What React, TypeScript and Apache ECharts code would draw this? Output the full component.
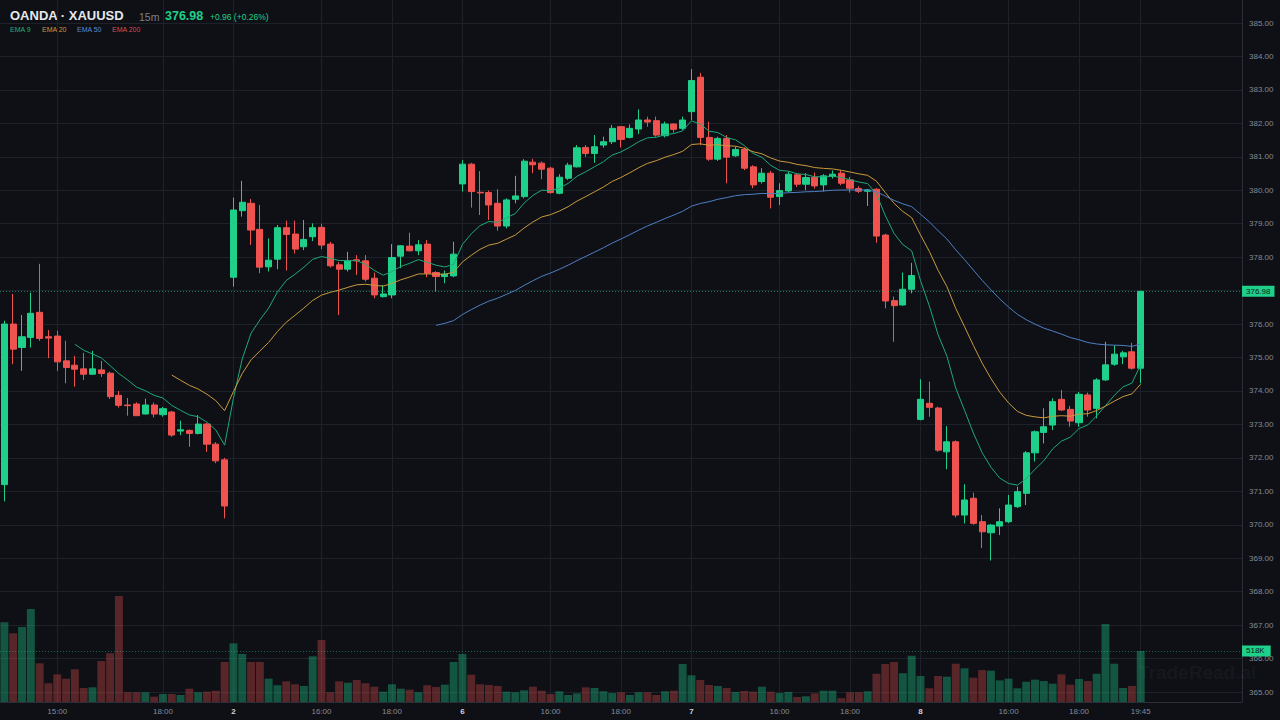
import React, { useEffect, useRef } from "react";
import * as echarts from "echarts";

// [open, close, low, high] per 15m candle
const candles: number[][] = [
  [371.2, 376.0, 370.7, 376.1], [376.0, 375.25, 374.8, 376.9], [375.3, 375.62, 374.6, 376.27], [375.6, 376.32, 375.3, 376.94],
  [376.35, 375.57, 375.5, 377.8], [375.62, 375.58, 374.98, 375.82], [375.64, 374.87, 374.6, 375.8], [374.9, 374.7, 374.23, 375.5],
  [374.77, 374.65, 374.13, 375.05], [374.66, 374.5, 374.33, 375.14], [374.5, 374.66, 374.48, 375.2], [374.63, 374.52, 374.42, 374.9],
  [374.53, 373.83, 373.76, 374.58], [373.87, 373.57, 373.5, 374.0], [373.58, 373.56, 373.26, 373.79], [373.61, 373.26, 373.25, 373.66],
  [373.31, 373.58, 373.3, 373.77], [373.58, 373.31, 373.21, 373.65], [373.29, 373.47, 373.23, 373.52], [373.37, 372.68, 372.63, 373.4],
  [372.8, 372.84, 372.68, 373.11], [372.82, 372.73, 372.33, 372.85], [372.73, 373.01, 372.7, 373.28], [373.01, 372.41, 372.18, 373.04],
  [372.41, 371.91, 371.84, 372.47], [371.94, 370.56, 370.19, 372.0],
  [377.4, 379.41, 377.12, 379.78], [379.39, 379.64, 379.21, 380.28], [379.61, 378.81, 378.36, 379.74], [378.83, 377.7, 377.52, 379.56],
  [377.71, 377.91, 377.57, 378.56], [377.94, 378.88, 377.64, 378.96], [378.88, 378.68, 377.6, 379.09], [378.69, 378.24, 378.11, 379.09],
  [378.31, 378.53, 378.21, 379.11], [378.61, 378.88, 378.48, 379.01], [378.89, 378.36, 378.24, 379.0], [378.39, 377.74, 377.69, 378.46],
  [377.77, 377.64, 376.27, 377.85], [377.64, 377.89, 377.57, 378.16], [377.92, 377.89, 377.47, 378.06], [377.89, 377.34, 377.27, 378.06],
  [377.37, 376.87, 376.77, 377.54], [376.82, 376.9, 376.79, 377.17], [376.87, 377.99, 376.77, 378.39], [378.03, 378.34, 377.67, 378.36],
  [378.33, 378.19, 378.17, 378.73], [378.19, 378.37, 378.06, 378.51], [378.39, 377.52, 377.4, 378.51], [377.54, 377.42, 376.97, 377.58],
  [377.42, 377.49, 377.22, 377.6], [377.44, 378.09, 377.4, 378.46],
  [380.19, 380.78, 379.96, 380.9], [380.78, 379.96, 379.48, 380.82], [379.94, 379.92, 379.26, 380.57], [379.93, 379.56, 379.11, 379.99],
  [379.61, 378.93, 378.79, 380.03], [378.93, 379.71, 378.86, 379.76], [379.73, 379.83, 379.61, 380.43], [379.81, 380.87, 379.76, 380.93],
  [380.84, 380.76, 380.51, 380.94], [380.81, 380.63, 380.33, 380.86], [380.66, 379.93, 379.9, 380.7], [379.91, 380.39, 379.88, 380.48],
  [380.36, 380.75, 380.31, 380.82], [380.7, 381.27, 380.68, 381.35], [381.28, 381.1, 381.0, 381.35], [381.1, 381.3, 380.82, 381.65],
  [381.35, 381.45, 381.27, 381.6], [381.45, 381.85, 381.38, 381.95], [381.9, 381.52, 381.28, 381.92], [381.58, 381.85, 381.55, 381.97],
  [381.83, 382.1, 381.68, 382.42], [382.1, 382.04, 381.9, 382.2], [382.08, 381.65, 381.6, 382.2], [381.63, 381.98, 381.58, 382.05],
  [381.98, 381.82, 381.72, 382.0], [381.85, 382.1, 381.8, 382.2],
  [382.35, 383.28, 382.1, 383.62], [383.38, 381.58, 381.35, 383.51], [381.58, 380.93, 380.88, 382.05], [380.93, 381.55, 380.88, 381.6],
  [381.55, 380.99, 380.21, 381.65], [381.03, 381.22, 381.0, 381.3], [381.22, 380.66, 380.6, 381.28], [380.7, 380.16, 380.06, 380.75],
  [380.26, 380.51, 380.2, 380.66], [380.51, 379.79, 379.46, 380.58], [379.81, 379.99, 379.56, 380.21], [379.98, 380.48, 379.95, 380.56],
  [380.46, 380.18, 380.1, 380.5], [380.18, 380.38, 380.0, 380.51], [380.39, 380.13, 380.05, 380.53], [380.16, 380.43, 379.96, 380.48],
  [380.41, 380.48, 380.35, 380.59], [380.51, 380.21, 380.15, 380.6], [380.31, 380.06, 379.93, 380.4], [380.05, 379.97, 379.92, 380.12],
  [379.97, 380.01, 379.53, 380.04], [380.03, 378.63, 378.43, 380.06], [378.66, 376.69, 376.47, 378.7], [376.7, 376.55, 375.47, 376.82],
  [376.57, 377.04, 376.55, 377.54], [377.04, 377.45, 376.92, 377.83],
  [373.15, 373.75, 373.12, 374.35], [373.63, 373.51, 373.23, 374.28], [373.49, 372.23, 372.18, 373.53], [372.18, 372.48, 371.66, 372.95],
  [372.48, 370.29, 370.22, 372.52], [370.29, 370.74, 370.04, 371.21], [370.79, 370.04, 370.0, 370.96], [370.09, 369.79, 369.3, 370.29],
  [369.76, 369.99, 368.93, 370.02], [369.96, 370.09, 369.69, 370.49], [370.09, 370.59, 370.05, 370.89], [370.54, 370.99, 370.5, 371.14],
  [370.94, 372.15, 370.59, 372.2], [372.15, 372.78, 371.89, 372.82], [372.76, 372.93, 372.43, 373.48], [372.98, 373.68, 372.83, 373.78],
  [373.75, 373.43, 373.4, 374.03], [373.45, 373.1, 372.93, 373.55], [373.05, 373.9, 372.93, 373.97], [373.88, 373.43, 373.23, 373.95],
  [373.48, 374.33, 373.18, 374.38], [374.33, 374.78, 374.3, 375.47], [374.8, 375.1, 374.75, 375.37], [375.02, 375.14, 374.8, 375.2],
  [375.17, 374.68, 374.64, 375.44], [374.68, 376.98, 374.23, 376.98],
];

// volume in thousands
const volumes: number[] = [
  810, 698, 762, 945, 393, 190, 281, 237, 332, 142, 149, 416, 495, 1077, 99, 99, 99, 54, 81, 81, 71, 135, 99, 105, 115, 406,
  596, 488, 406, 406, 237, 170, 210, 180, 163, 464, 630, 99, 210, 196, 223, 190, 155, 105, 180, 135, 125, 99, 170, 152, 176, 406,
  488, 277, 180, 173, 163, 105, 99, 119, 155, 115, 81, 109, 71, 88, 149, 142, 109, 91, 99, 71, 99, 99, 71, 109, 115, 386,
  271, 223, 173, 163, 142, 102, 112, 105, 155, 105, 91, 102, 51, 58, 88, 115, 115, 38, 99, 99, 109, 287, 386, 406, 292, 470,
  264, 139, 264, 257, 389, 342, 247, 325, 318, 220, 237, 139, 206, 227, 213, 186, 281, 176, 234, 213, 287, 792, 389, 142, 163, 518,
];

// x tick labels: [candle index, label, isDay]
const xTicks: [number, string, boolean][] = [
  [6, "15:00", false], [18, "18:00", false], [26, "2", true], [36, "16:00", false], [44, "18:00", false],
  [52, "6", true], [62, "16:00", false], [70, "18:00", false], [78, "7", true], [88, "16:00", false],
  [96, "18:00", false], [104, "8", true], [114, "16:00", false], [122, "18:00", false], [129, "19:45", false],
];

const emaPeriods = [9, 20, 50];
const emaColors = ["#1fa878", "#c99a3c", "#4f7fc2"];
const legendItems: [string, string][] = [["EMA 9", "#22b07f"], ["EMA 20", "#c99a3c"], ["EMA 50", "#5a8ad0"], ["EMA 200", "#d64f4c"]];

const lastPrice = 376.98;
const lastVolume = 518;
const SLOTS = 141;

const BG = "#0e1016";
const GRID = "#1d212a";
const AXIS = "#2a2e38";
const TXT = "#868a94";
const UP = "#1fd08a";
const DOWN = "#f0534f";

function ema(vals: number[], n: number): (number | null)[] {
  const k = 2 / (n + 1);
  const out: (number | null)[] = [];
  let prev = 0;
  for (let i = 0; i < vals.length; i++) {
    if (i < n - 1) out.push(null);
    else if (i === n - 1) {
      let s = 0;
      for (let j = 0; j < n; j++) s += vals[j];
      prev = s / n;
      out.push(prev);
    } else {
      prev = vals[i] * k + prev * (1 - k);
      out.push(prev);
    }
  }
  return out;
}

export default function App() {
  const ref = useRef<HTMLDivElement>(null);
  useEffect(() => {
    document.body.style.margin = "0";
    document.body.style.background = BG;
    const chart = echarts.init(ref.current!, undefined, { renderer: "svg" });
    const cats = Array.from({ length: SLOTS }, (_, i) => String(i));
    const tickMap = new Map<number, [string, boolean]>();
    xTicks.forEach(([i, l, d]) => tickMap.set(i, [l, d]));
    const closes = candles.map((c) => c[1]);
    const volData = volumes.map((v, i) => ({
      value: v,
      itemStyle: { color: candles[i][1] >= candles[i][0] ? "rgba(31,208,138,0.36)" : "rgba(240,83,79,0.33)" },
    }));
    const font = "'Liberation Sans', Arial, sans-serif";

    const graphics: any[] = [
      { type: "text", left: 10, top: 9, style: { text: "OANDA · XAUUSD", fill: "#e6e8ec", font: `bold 13px ${font}` } },
      { type: "text", left: 139, top: 11, style: { text: "15m", fill: "#7c808a", font: `10.5px ${font}` } },
      { type: "text", left: 165, top: 9.5, style: { text: lastPrice.toFixed(2), fill: UP, font: `bold 12.5px ${font}` } },
      { type: "text", left: 210, top: 12, style: { text: "+0.96 (+0.26%)", fill: UP, font: `8.5px ${font}` } },
      { type: "text", left: 1138, top: 663, z: 20, silent: true, style: { text: "TradeRead.ai", fill: "rgba(255,255,255,0.05)", font: `bold 19px ${font}` } },
    ];
    let lx = 10;
    const lw = [32, 35, 35, 40];
    legendItems.forEach(([t, c], i) => {
      graphics.push({ type: "text", left: lx, top: 26, style: { text: t, fill: c, font: `7px ${font}` } });
      lx += lw[i];
    });

    const option: any = {
      animation: false,
      backgroundColor: BG,
      textStyle: { fontFamily: font },
      grid: [
        { left: -1, right: 38, top: 23, height: 669 },
        { left: -1, right: 38, top: 0, height: 702 },
      ],
      xAxis: [
        { type: "category", gridIndex: 0, data: cats, boundaryGap: true, show: false },
        {
          type: "category", gridIndex: 1, data: cats, boundaryGap: true,
          axisLine: { show: true, lineStyle: { color: AXIS } },
          axisTick: { show: false },
          splitLine: { show: false },
          axisLabel: {
            interval: (i: number) => tickMap.has(i),
            formatter: (v: string) => {
              const t = tickMap.get(Number(v));
              if (!t) return "";
              return t[1] ? `{d|${t[0]}}` : t[0];
            },
            color: TXT, fontSize: 8, margin: 5,
            rich: { d: { color: "#cfd2d8", fontWeight: "bold", fontSize: 8 } },
          },
        },
      ],
      yAxis: [
        {
          type: "value", gridIndex: 0, position: "right", min: 365, max: 385, interval: 1,
          axisLine: { show: false }, axisTick: { show: false },
          axisLabel: {
            // the last-price badge covers the label nearest to it
            formatter: (v: number) => (Math.abs(v - lastPrice) < 0.3 ? "" : v.toFixed(2)),
            color: TXT, fontSize: 8, margin: 7,
          },
          splitLine: { lineStyle: { color: GRID, width: 1 } },
        },
        {
          type: "value", gridIndex: 1, position: "right", min: 0, max: 7130,
          axisLine: { show: true, lineStyle: { color: AXIS } },
          axisTick: { show: false }, axisLabel: { show: false }, splitLine: { show: false },
        },
      ],
      series: [
        {
          type: "bar", name: "Volume", xAxisIndex: 1, yAxisIndex: 1, data: volData, barWidth: "90%", z: 1,
          markLine: {
            silent: true, symbol: ["none", "none"], animation: false, z: 0,
            label: { show: false },
            lineStyle: { color: GRID, type: "solid", width: 1 },
            data: xTicks.map(([i]) => ({ xAxis: i })),
          },
        },
        {
          type: "line", name: "VolumeMark", xAxisIndex: 1, yAxisIndex: 1, data: [], z: 2,
          markLine: {
            silent: true, symbol: ["none", "none"], animation: false,
            data: [
              {
                yAxis: lastVolume,
                lineStyle: { color: "rgba(31,208,138,0.45)", type: [1, 2], width: 1 },
                label: {
                  show: true, position: "end", distance: 0, formatter: `${lastVolume}K`,
                  backgroundColor: UP, color: "#0b1a12", fontSize: 8, padding: [2, 6, 1, 4],
                },
              },
            ],
          },
        },
        {
          type: "candlestick", name: "XAUUSD", xAxisIndex: 0, yAxisIndex: 0, data: candles, barWidth: "75%", z: 3,
          itemStyle: { color: UP, color0: DOWN, borderColor: UP, borderColor0: DOWN, borderWidth: 1 },
          markLine: {
            silent: true, symbol: ["none", "none"], animation: false,
            data: [
              {
                yAxis: lastPrice,
                lineStyle: { color: "rgba(31,208,138,0.55)", type: [1, 2], width: 1 },
                label: {
                  show: true, position: "end", distance: 0, formatter: lastPrice.toFixed(2),
                  backgroundColor: UP, color: "#0b1a12", fontSize: 8, padding: [2, 4, 1, 4],
                },
              },
            ],
          },
        },
        ...emaPeriods.map((p, k) => ({
          type: "line", name: `EMA ${p}`, xAxisIndex: 0, yAxisIndex: 0, data: ema(closes, p),
          showSymbol: false, symbol: "none", z: 4,
          lineStyle: { color: emaColors[k], width: 1 },
        })),
      ],
      graphic: graphics,
    };
    chart.setOption(option);
    return () => chart.dispose();
  }, []);
  return <div ref={ref} style={{ position: "fixed", left: 0, top: 0, width: 1280, height: 720, background: BG }} />;
}
